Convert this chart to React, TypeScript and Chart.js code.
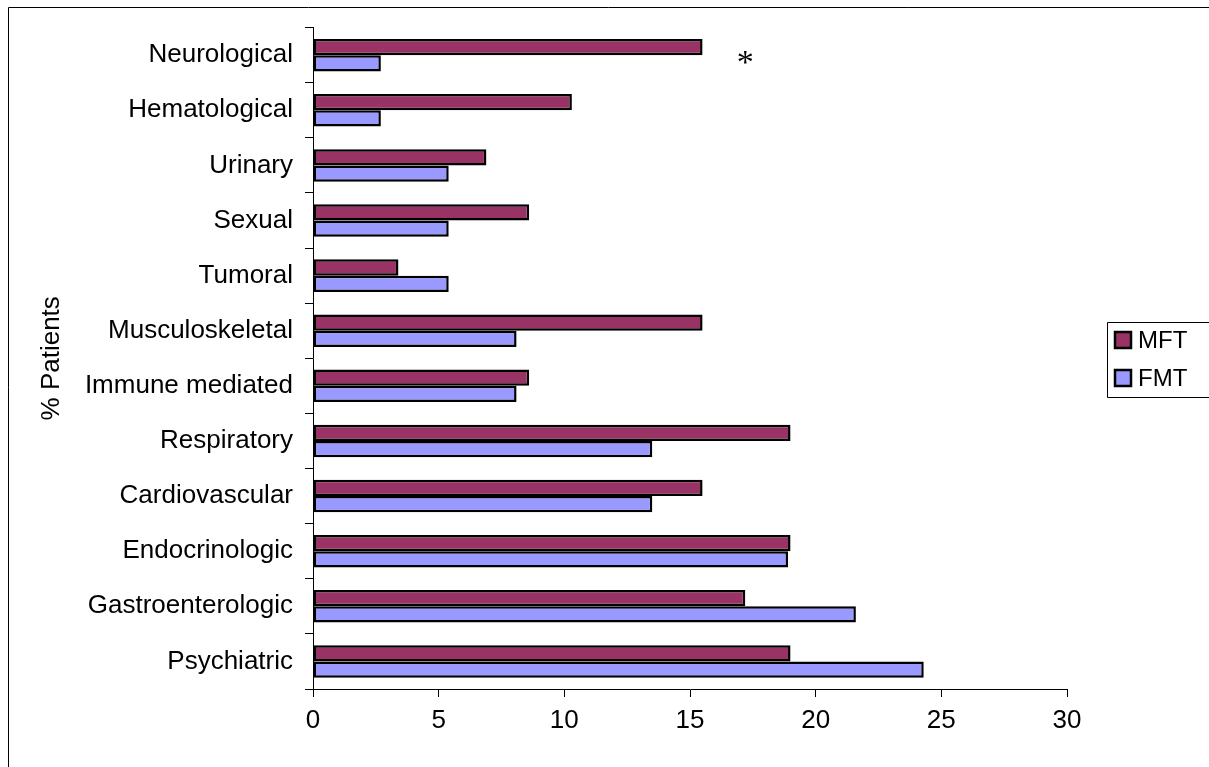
import React, { useEffect, useRef } from "react";
import { Chart, registerables } from "chart.js";

Chart.register(...registerables);

// Body-system categories, listed top to bottom
const categories = [
  "Neurological",
  "Hematological",
  "Urinary",
  "Sexual",
  "Tumoral",
  "Musculoskeletal",
  "Immune mediated",
  "Respiratory",
  "Cardiovascular",
  "Endocrinologic",
  "Gastroenterologic",
  "Psychiatric",
];

// % of patients per group
const mftValues = [15.5, 10.3, 6.9, 8.6, 3.4, 15.5, 8.6, 19.0, 15.5, 19.0, 17.2, 19.0];
const fmtValues = [2.7, 2.7, 5.4, 5.4, 5.4, 8.1, 8.1, 13.5, 13.5, 18.9, 21.6, 24.3];

const seriesNames = ["MFT", "FMT"];
const seriesColors = ["#993366", "#9999FF"];

// Value axis range and tick spacing
const xMin = 0;
const xMax = 30;
const xStep = 5;

const axisTitle = "% Patients";

// Significance marker beside a category
const markerCategory = "Neurological";
const markerValue = 17.2;
const markerText = "*";

const SANS = '"Liberation Sans", Arial, sans-serif';
const SERIF = '"Liberation Serif", "Times New Roman", serif';

const decorPlugin = {
  id: "decor",
  afterDraw(chart: any) {
    const ctx = chart.ctx;
    const xs = chart.scales.x;
    const ys = chart.scales.y;
    ctx.save();

    // outer frame (left and top edges)
    ctx.strokeStyle = "#000";
    ctx.lineWidth = 1;
    ctx.beginPath();
    ctx.moveTo(8.5, chart.height);
    ctx.lineTo(8.5, 7.5);
    ctx.lineTo(chart.width, 7.5);
    ctx.stroke();

    // vertical axis title
    ctx.save();
    ctx.translate(52, (chart.chartArea.top + chart.chartArea.bottom) / 2);
    ctx.rotate(-Math.PI / 2);
    ctx.fillStyle = "#000";
    ctx.font = `26px ${SANS}`;
    ctx.textAlign = "center";
    ctx.textBaseline = "middle";
    ctx.fillText(axisTitle, 0, 0);
    ctx.restore();

    // marker next to the category
    const mi = categories.indexOf(markerCategory);
    ctx.fillStyle = "#000";
    ctx.font = `34px ${SERIF}`;
    ctx.textAlign = "center";
    ctx.textBaseline = "alphabetic";
    ctx.fillText(markerText, xs.getPixelForValue(markerValue), ys.getPixelForValue(mi) + 18);

    // legend box
    const lx = 1107.5;
    const ly = 322.5;
    const lb = 397.5;
    ctx.strokeStyle = "#000";
    ctx.lineWidth = 1;
    ctx.beginPath();
    ctx.moveTo(chart.width, ly);
    ctx.lineTo(lx, ly);
    ctx.lineTo(lx, lb);
    ctx.lineTo(chart.width, lb);
    ctx.stroke();

    ctx.font = `24px ${SANS}`;
    ctx.textAlign = "left";
    ctx.textBaseline = "middle";
    seriesNames.forEach((name, i) => {
      const cy = 340 + i * 38;
      ctx.fillStyle = seriesColors[i];
      ctx.fillRect(1115, cy - 8, 16, 16);
      ctx.strokeStyle = "#000";
      ctx.lineWidth = 2.5;
      ctx.strokeRect(1115, cy - 8, 16, 16);
      ctx.fillStyle = "#000";
      ctx.fillText(name, 1138, cy + 1);
    });

    ctx.restore();
  },
};

export default function App() {
  const canvasRef = useRef<HTMLCanvasElement | null>(null);

  useEffect(() => {
    const canvas = canvasRef.current;
    if (!canvas) return;
    const chart = new Chart(canvas, {
      type: "bar",
      data: {
        labels: categories,
        datasets: [
          {
            label: seriesNames[0],
            data: mftValues,
            backgroundColor: seriesColors[0],
            borderColor: "#000",
            borderWidth: 2.5,
            borderSkipped: false,
            categoryPercentage: 0.59,
            barPercentage: 1,
          },
          {
            label: seriesNames[1],
            data: fmtValues,
            backgroundColor: seriesColors[1],
            borderColor: "#000",
            borderWidth: 2.5,
            borderSkipped: false,
            categoryPercentage: 0.59,
            barPercentage: 1,
          },
        ],
      },
      options: {
        indexAxis: "y",
        responsive: false,
        animation: false,
        devicePixelRatio: 1,
        layout: { padding: { left: 8, top: 27, right: 142, bottom: 0 } },
        plugins: {
          legend: { display: false },
          tooltip: { enabled: false },
          title: { display: false },
        },
        scales: {
          x: {
            type: "linear",
            min: xMin,
            max: xMax,
            ticks: {
              stepSize: xStep,
              color: "#000",
              font: { family: SANS, size: 26 },
              padding: 8,
            },
            grid: {
              display: true,
              drawOnChartArea: false,
              drawTicks: true,
              tickLength: 8,
              color: "#000",
            },
            border: { display: true, color: "#000", width: 1 },
            afterFit(scale: any) {
              scale.height = 78;
            },
          },
          y: {
            type: "category",
            offset: true,
            ticks: {
              color: "#000",
              font: { family: SANS, size: 26 },
              padding: 12,
              autoSkip: false,
            },
            grid: {
              display: true,
              offset: true,
              drawOnChartArea: false,
              drawTicks: true,
              tickLength: 8,
              color: "#000",
            },
            border: { display: true, color: "#000", width: 1 },
            afterFit(scale: any) {
              scale.width = 305;
            },
          },
        },
      },
      plugins: [decorPlugin],
    });
    return () => chart.destroy();
  }, []);

  return (
    <div style={{ position: "fixed", left: 0, top: 0, width: 1209, height: 767, background: "#fff" }}>
      <canvas ref={canvasRef} width={1209} height={767} style={{ display: "block" }} />
    </div>
  );
}
